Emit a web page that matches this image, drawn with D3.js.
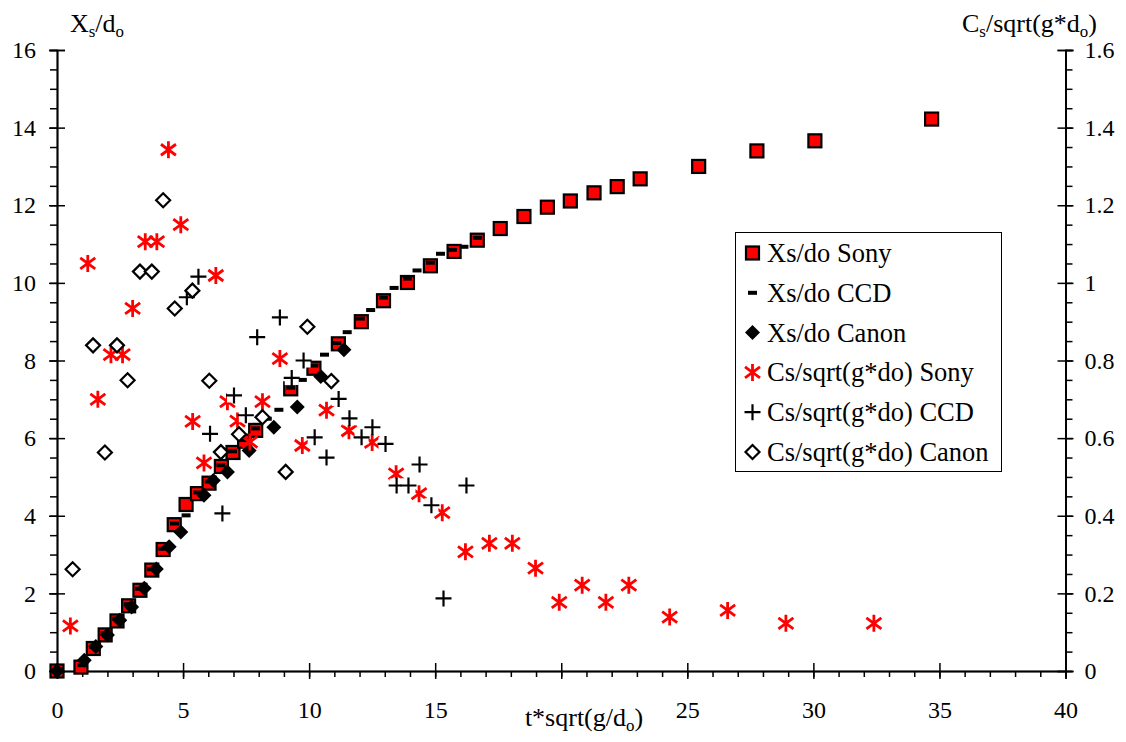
<!DOCTYPE html>
<html><head><meta charset="utf-8">
<script src="https://cdn.jsdelivr.net/npm/d3@7"></script>
<style>
body{margin:0;background:#fff}
svg{display:block}
svg text{font-family:"Liberation Serif","Tinos","Times New Roman","Nimbus Roman","FreeSerif","DejaVu Serif","Noto Serif",serif !important;fill:#000}
</style>
</head><body>
<svg id="c" width="1126" height="742"></svg>
<script>
// ---------- data ----------
const xTicks = [0,5,10,15,20,25,30,35,40];
const xTickLabels = ["0","5","10","15","","25","30","35","40"];
const yTicks = [0,2,4,6,8,10,12,14,16];
const y2Ticks = [0,0.2,0.4,0.6,0.8,1,1.2,1.4,1.6];
const y2Labels = ["0","0.2","0.4","0.6","0.8","1","1.2","1.4","1.6"];

const legendNames = ["Xs/do Sony","Xs/do CCD","Xs/do Canon","Cs/sqrt(g*do) Sony","Cs/sqrt(g*do) CCD","Cs/sqrt(g*do) Canon"];

// Xs/do (left axis)
const xsSony = [[0,0],[0.95,0.1],[1.44,0.58],[1.91,0.93],[2.38,1.29],[2.84,1.68],[3.29,2.08],[3.76,2.6],[4.21,3.13],
 [4.65,3.77],[5.12,4.29],[5.57,4.57],[6.03,4.84],[6.52,5.27],[6.98,5.63],[7.44,5.92],[7.88,6.2],[9.27,7.27],[10.19,7.8],
 [11.16,8.43],[12.07,9.0],[12.95,9.54],[13.9,10.01],[14.81,10.44],[15.75,10.81],[16.67,11.1],[17.58,11.4],[18.52,11.71],
 [19.45,11.95],[20.36,12.11],[21.3,12.32],[22.22,12.48],[23.13,12.68],[25.45,13.0],[27.76,13.4],[30.06,13.66],[34.69,14.22]];

const xsCCD = [[0.07,0.05],[0.99,0.15],[1.45,0.62],[1.91,0.98],[2.37,1.35],[2.82,1.72],[3.28,2.12],[3.74,2.62],
 [4.2,3.15],[4.66,3.8],[5.12,4.01],[5.58,4.6],[6.04,4.88],[6.5,5.3],[6.96,5.66],[7.42,5.95],[7.88,6.25],[8.34,6.5],
 [8.8,6.73],[9.27,7.3],[9.73,7.5],[10.19,7.87],[10.61,8.15],[11.1,8.45],[11.51,8.73],[12.04,9.08],[12.44,9.3],[12.95,9.62],
 [13.37,9.87],[13.9,10.11],[14.28,10.32],[14.81,10.52],[15.21,10.75],[15.68,10.85],[16.14,10.93],[16.67,11.16]];

const xsCanon = [[0,0],[1.08,0.28],[1.54,0.63],[2.0,0.93],[2.49,1.31],[2.96,1.65],[3.46,2.13],[3.94,2.63],[4.45,3.2],
 [4.91,3.58],[5.83,4.53],[6.2,4.91],[6.76,5.13],[7.62,5.68],[8.6,6.28],[9.53,6.8],[10.46,7.59],[11.38,8.28]];

// Cs/sqrt(g*do) (right axis)
const csSony = [[0.53,0.116],[1.22,1.05],[1.62,0.70],[2.14,0.815],[2.6,0.815],[3.0,0.934],[3.5,1.106],[3.96,1.106],
 [4.42,1.343],[4.91,1.15],[5.38,0.643],[5.83,0.536],[6.3,1.019],[6.76,0.694],[7.16,0.644],[7.65,0.59],[8.15,0.694],
 [8.84,0.805],[9.73,0.581],[10.69,0.672],[11.58,0.619],[12.5,0.589],[13.45,0.508],[14.36,0.457],[15.28,0.408],
 [16.2,0.307],[17.15,0.329],[18.06,0.329],[18.98,0.265],[19.92,0.177],[20.83,0.221],[21.77,0.177],[22.68,0.221],
 [24.3,0.139],[26.6,0.156],[28.91,0.123],[32.4,0.123]];

const csCCD = [[5.15,0.963],[5.61,1.016],[6.07,0.611],[6.56,0.406],[7.02,0.71],[7.49,0.659],[7.94,0.86],[8.84,0.911],
 [9.31,0.755],[9.78,0.80],[10.22,0.602],[10.69,0.55],[11.17,0.701],[11.6,0.651],[12.08,0.602],[12.51,0.628],
 [13.03,0.585],[13.47,0.478],[13.94,0.478],[14.38,0.532],[14.85,0.427],[15.33,0.187],[16.24,0.478]];

const csCanon = [[0.62,0.262],[1.43,0.839],[1.9,0.563],[2.38,0.839],[2.8,0.749],[3.29,1.029],[3.76,1.029],[4.21,1.213],
 [4.67,0.934],[5.37,0.98],[6.04,0.748],[6.5,0.564],[7.22,0.61],[8.15,0.654],[9.07,0.513],[9.93,0.887],[10.88,0.747]];

// ---------- layout ----------
const L = 57, R = 1065.5, T = 50, B = 671;
const svg = d3.select("#c");

const x = d3.scaleLinear().domain([0,40]).range([L,R]);
const y = d3.scaleLinear().domain([0,16]).range([B,T]);
const y2 = d3.scaleLinear().domain([0,1.6]).range([B,T]);

const FS = 24, TFS = 26;

function styleAxis(g){
  g.attr("font-family",null);
  g.selectAll("path.domain").attr("stroke","#000").attr("stroke-width",1.5);
  g.selectAll(".tick line").attr("stroke","#000").attr("stroke-width",1.5);
  g.selectAll(".tick text").attr("font-size",FS).attr("fill","#000");
}

// minor ticks
const minorY = d3.range(0,16.01,0.5);
const minorX = d3.range(0,40.01,1);
const minorY2 = d3.range(0,1.601,0.05);

svg.append("g").attr("transform",`translate(${L},0)`)
  .call(d3.axisLeft(y).tickValues(minorY).tickSize(7).tickFormat(""))
  .call(styleAxis);
svg.append("g").attr("transform",`translate(0,${B})`)
  .call(d3.axisBottom(x).tickValues(minorX).tickSize(6).tickFormat(""))
  .call(styleAxis);
svg.append("g").attr("transform",`translate(${R},0)`)
  .call(d3.axisRight(y2).tickValues(minorY2).tickSize(7).tickFormat(""))
  .call(styleAxis);

// major ticks (crossing)
svg.append("g").attr("transform",`translate(${L},0)`)
  .call(d3.axisLeft(y).tickValues(yTicks).tickSize(8).tickPadding(13).tickFormat(d3.format("d")))
  .call(styleAxis);
svg.append("g").attr("transform",`translate(${L},0)`)
  .call(d3.axisRight(y).tickValues(yTicks).tickSize(8).tickFormat(""))
  .call(styleAxis);
svg.append("g").attr("transform",`translate(0,${B})`)
  .call(d3.axisBottom(x).tickValues(xTicks).tickSize(8).tickPadding(22).tickFormat((d,i)=>xTickLabels[i]))
  .call(styleAxis);
svg.append("g").attr("transform",`translate(0,${B})`)
  .call(d3.axisTop(x).tickValues(xTicks).tickSize(8).tickFormat(""))
  .call(styleAxis);
svg.append("g").attr("transform",`translate(${R},0)`)
  .call(d3.axisRight(y2).tickValues(y2Ticks).tickSize(8).tickPadding(11).tickFormat((d,i)=>y2Labels[i]))
  .call(styleAxis);
svg.append("g").attr("transform",`translate(${R},0)`)
  .call(d3.axisLeft(y2).tickValues(y2Ticks).tickSize(8).tickFormat(""))
  .call(styleAxis);

// ---------- axis titles ----------
function subTitle(xp, yp, parts, anchor){
  const t = svg.append("text").attr("x",xp).attr("y",yp).attr("font-size",TFS).attr("text-anchor",anchor||"start");
  parts.forEach(p=>{
    if(p.sub){
      t.append("tspan").attr("font-size",TFS*0.65).attr("dy",5).text(p.t);
    } else {
      t.append("tspan").attr("dy",p.back?-5:0).text(p.t);
    }
  });
  return t;
}
subTitle(70,32,[{t:"X"},{t:"s",sub:true},{t:"/d",back:true},{t:"o",sub:true}]);
subTitle(962,32,[{t:"C"},{t:"s",sub:true},{t:"/sqrt(g*d",back:true},{t:"o",sub:true},{t:")",back:true}]);
subTitle(584,726,[{t:"t*sqrt(g/d"},{t:"o",sub:true},{t:")",back:true}],"middle");

// ---------- markers ----------
function marker(g, type, cx, cy){
  const m = g.append("g").attr("transform",`translate(${cx},${cy})`);
  if(type==="square"){
    m.append("rect").attr("x",-6.5).attr("y",-6.5).attr("width",13).attr("height",13)
      .attr("fill","#ff0000").attr("stroke","#000").attr("stroke-width",2.2);
  } else if(type==="dash"){
    m.append("rect").attr("x",-4.5).attr("y",-2).attr("width",9).attr("height",4).attr("fill","#000");
  } else if(type==="diamond"){
    m.append("path").attr("d","M0,-7.5L7.5,0L0,7.5L-7.5,0Z").attr("fill","#000");
  } else if(type==="star"){
    m.append("path").attr("d","M0,-8.5V8.5M-7.5,-5.5L7.5,5.5M-7.5,5.5L7.5,-5.5")
      .attr("stroke","#ff0000").attr("stroke-width",2.8).attr("fill","none");
  } else if(type==="plus"){
    m.append("rect").attr("x",-7).attr("y",-7).attr("width",14).attr("height",14).attr("fill","#fff");
    m.append("path").attr("d","M-8,0H8M0,-8V8").attr("stroke","#000").attr("stroke-width",2.2).attr("fill","none");
  } else if(type==="odiamond"){
    m.append("path").attr("d","M0,-7L7,0L0,7L-7,0Z").attr("fill","#fff").attr("stroke","#000").attr("stroke-width",2.2);
  }
}

const series = [
  {data:xsSony, type:"square", ys:y},
  {data:xsCCD, type:"dash", ys:y},
  {data:xsCanon, type:"diamond", ys:y},
  {data:csSony, type:"star", ys:y2},
  {data:csCCD, type:"plus", ys:y2},
  {data:csCanon, type:"odiamond", ys:y2}
];
const plot = svg.append("g");
series.forEach(s=>{
  const g = plot.append("g");
  s.data.forEach(d=>marker(g, s.type, x(d[0]), s.ys(d[1])));
});

// ---------- legend ----------
const lg = svg.append("g");
lg.append("rect").attr("x",735.5).attr("y",232.5).attr("width",266).attr("height",239)
  .attr("fill","#fff").attr("stroke","#000").attr("stroke-width",1);
legendNames.forEach((n,i)=>{
  const yy = 253 + i*39.8;
  marker(lg, series[i].type, 752.5, yy);
  lg.append("text").attr("x",767).attr("y",yy+9).attr("font-size",26.5).text(n);
});
</script>
</body></html>
